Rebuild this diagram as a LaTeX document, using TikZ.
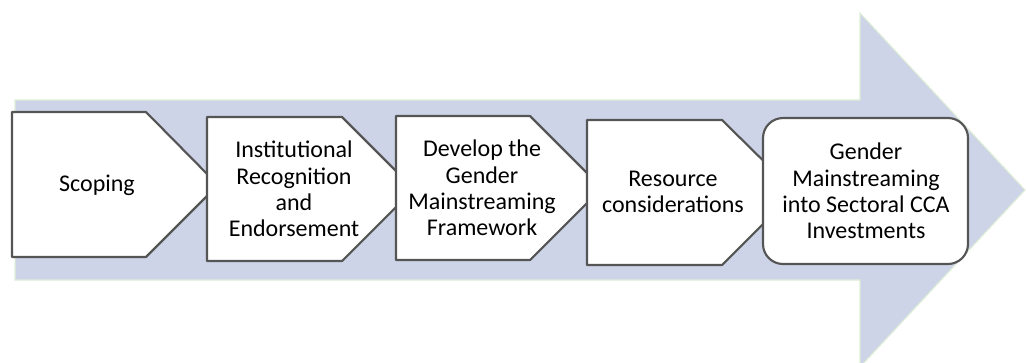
\documentclass[tikz,border=0pt]{standalone}
\usepackage{fontspec}
\setmainfont{Carlito}
\definecolor{bandfill}{RGB}{205,212,232}
\definecolor{bandedge}{RGB}{222,238,214}
\definecolor{boxline}{RGB}{85,85,85}
\begin{document}
\begin{tikzpicture}[x=0.75pt,y=-0.75pt,
    stagebox/.style={draw=boxline,fill=white,line width=1.6pt,line join=round},
    stagetext/.style={align=center,inner sep=0pt,font=\fontsize{18}{19.8}\selectfont}]
      \useasboundingbox (0,0) rectangle (1026,362);
      \fill[bandfill,draw=bandedge,line width=0.8pt]
        (15,100) -- (860,100) -- (860,13) -- (1025,190) -- (860,367) -- (860,280) -- (15,280) -- cycle;
      \draw[stagebox] (12,112) -- (146,112) -- (218,185) -- (146,257) -- (12,257) -- cycle;
      \draw[stagebox] (207,117) -- (342,117) -- (414,189) -- (342,261) -- (207,261) -- cycle;
      \draw[stagebox] (396,116) -- (530,116) -- (602,188) -- (530,260) -- (396,260) -- cycle;
      \draw[stagebox] (587,120) -- (722,120) -- (795,192) -- (722,265) -- (587,265) -- cycle;
      \draw[stagebox,rounded corners=15pt] (763,118) rectangle (968,264);
      \draw
        (97,185) node[stagetext] (scoping){Scoping}
        (294,189) node[stagetext] (recognition){Institutional\\Recognition\\and\\Endorsement}
        (482,188) node[stagetext] (framework){Develop the\\Gender\\Mainstreaming\\Framework}
        (673,192) node[stagetext] (resource){Resource\\considerations}
        (866,191) node[stagetext] (investment){Gender\\Mainstreaming\\into Sectoral CCA\\Investments};
    \end{tikzpicture}
\end{document}
